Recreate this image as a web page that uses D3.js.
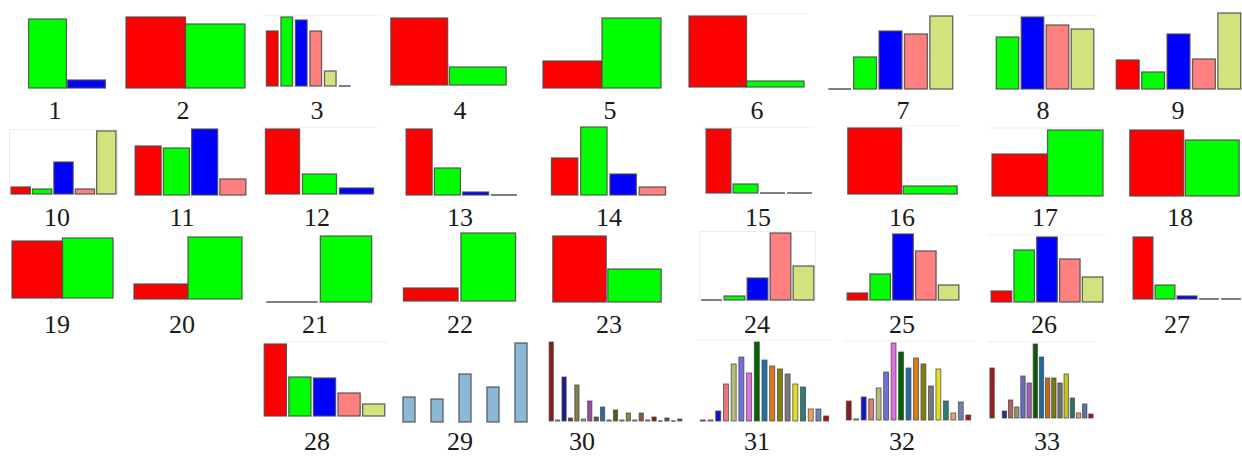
<!DOCTYPE html>
<html><head><meta charset="utf-8">
<script src="https://cdn.jsdelivr.net/npm/d3@7"></script>
<style>html,body{margin:0;padding:0;background:#fff;}svg{display:block;}</style>
</head><body>
<svg id="c" width="1242" height="456"></svg>
<script>
// ---------- DATA ----------
const panelLabels = d3.range(1, 34).map(String);
const panelValues = [
  [69, 8],
  [71, 64],
  [55, 69, 66, 55, 15, 0],
  [67, 18],
  [27, 70],
  [71, 6],
  [0, 32, 58, 55, 73],
  [null, 52, 72, 64, 60],
  [29, 17, 55, 30, 76],
  [7, 5, 32, 5, 63],
  [49, 47, 66, 16],
  [65, 20, 6],
  [66, 27, 3, 0],
  [37, 68, 21, 8],
  [64, 9, 0, 0],
  [66, 8],
  [42, 66],
  [66, 56],
  [57, 60],
  [15, 62],
  [0, 66],
  [13, 68],
  [66, 33],
  [0, 4, 22, 67, 34],
  [7, 26, 66, 49, 15],
  [11, 52, 65, 43, 25],
  [62, 14, 3, 0, 0],
  [72, 39, 38, 23, 12],
  [25, 23, 48, 35, 79],
  [79, 1, 44, 3, 36, 2, 20, 4, 14, 1, 11, 1, 8, 1, 8, 1, 4, 0, 3, 0, 2],
  [1, 1, 10, 37, 57, 64, 48, 79, 61, 55, 52, 47, 37, 34, 12, 12, 5],
  [19, 1, 23, 21, 32, 48, 77, 68, 52, 62, 56, 34, 51, 19, 7, 18, 5],
  [50, null, 7, 18, 11, 42, 35, 74, 61, 40, 40, 35, 44, 20, 5, 14, 4]
];

// ---------- LAYOUT (positions / sizes) ----------
// [x0, x1, top, bottom, labelX, slots, paddingInner]
const panelBoxes = [
  [28,106,19,88,55,2,0.03],
  [126,245,17,88,183,2,0.0],
  [265,381,17,86,317,8,0.2],
  [390,507,18,85,460,2,0.03],
  [543,661,18,88,610,2,0.0],
  [689,804,16,87,757,2,0.0],
  [827,954,16,89,903,5,0.1],
  [970,1095,17,89,1043,5,0.1],
  [1115,1242,13,89,1178,5,0.1],
  [10,117,131,194,57,5,0.1],
  [134,247,129,195,182,4,0.08],
  [264,375,129,194,317,3,0.08],
  [405,518,129,195,460,4,0.08],
  [550,667,127,195,609,4,0.1],
  [705,813,129,193,758,4,0.08],
  [847,958,128,194,902,2,0.03],
  [992,1103,130,196,1045,2,0.0],
  [1129,1240,130,196,1180,2,0.03],
  [12,113,238,298,57,2,0],
  [134,242,237,299,182,2,0],
  [265,373,236,302,315,2,0.05],
  [402,517,233,301,460,2,0.05],
  [552,662,236,302,609,2,0.03],
  [700,815,233,300,757,5,0.1],
  [846,960,234,300,902,5,0.1],
  [990,1104,237,302,1044,5,0.1],
  [1132,1242,237,299,1177,5,0.1],
  [263,386,344,416,317,5,0.1],
  [395,535,343,422,460,5,0.57],
  [548,683,342,421,582,21,0.35],
  [699,830,342,421,757,17,0.35],
  [845,972,343,420,902,17,0.35],
  [989,1094,344,418,1047,17,0.3]
];
const panelRow = [0,0,0,0,0,0,0,0,0, 1,1,1,1,1,1,1,1,1, 2,2,2,2,2,2,2,2,2, 3,3,3,3,3,3];
const rowBaselines = [119, 226, 333, 450];
const framedPanels = [3, 6, 8, 12, 15, 16, 17, 26, 28, 31, 32, 33];
const boxedPanels = [10, 24];

// ---------- STYLES ----------
const basicColors = ['#ff0000', '#00ff00', '#0000ff', '#ff8080', '#d4e27e', '#888888', '#888888', '#888888'];
const multiColors = ['#8b1a1a','#b0b0b0','#1414c8','#e87878','#b4bc78','#7070d8','#e070e0','#006400','#1f70a8','#e07818','#808010','#787878','#e0e020','#2e7d7d','#f0a060','#7080b8','#a01818'];
const darkColors = ['#8b1a1a','#999999','#1a1a8c','#8b2a2a','#7a8050','#999999','#9a4aa0','#555555','#2a6a9a','#999999','#5a5a20','#999999','#8a8a30','#999999','#8a5a30','#999999','#8b1a1a','#999999','#555555','#999999','#555555'];
const mutedColors = ['#a01c1c','#b0b0b0','#2a2a90','#b86060','#909868','#6a6ac8','#a060b0','#0a5a0a','#1f6aa0','#c06a20','#7a7a10','#707070','#c8c820','#2e7070','#e0a060','#6070a8','#a01818'];
const singleColor = '#8ab8d6';
const panelColorStart = d3.range(33).map(i => i === 0 ? 1 : 0);

function colorFor(p, i) {
  if (p === 28) return singleColor;
  if (p === 29) return darkColors[i % darkColors.length];
  if (p === 30 || p === 31) return multiColors[i % multiColors.length];
  if (p === 32) return mutedColors[i % mutedColors.length];
  return basicColors[i + panelColorStart[p]];
}

// ---------- DRAW ----------
const svg = d3.select('#c');

panelValues.forEach((vals, p) => {
  const [x0, x1, top, bottom, labelX, slots, pad] = panelBoxes[p];
  const g = svg.append('g');
  const x = d3.scaleBand().domain(d3.range(slots)).range([x0, x1]).paddingInner(pad).paddingOuter(pad / 2);
  const ymax = d3.max(vals.filter(v => v != null));
  const y = d3.scaleLinear().domain([0, ymax]).range([bottom, top]);

  if (framedPanels.includes(p + 1)) {
    g.append('line').attr('x1', x0 - 2).attr('x2', x1 + 2).attr('y1', top - 2).attr('y2', top - 2)
      .attr('stroke', '#eeeeee').attr('stroke-width', 1);
  }
  if (boxedPanels.includes(p + 1)) {
    g.append('rect').attr('x', x0 - 0.5).attr('y', top - 1.5).attr('width', x1 - x0 + 1).attr('height', bottom - top + 1.5)
      .attr('fill', 'none').attr('stroke', '#eeeeee').attr('stroke-width', 1);
  }

  const data = vals.map((v, i) => ({ v, i })).filter(d => d.v != null);
  const small = slots > 10;
  g.selectAll('rect.bar').data(data.filter(d => d.v > 0)).join('rect')
    .attr('class', 'bar')
    .attr('x', d => x(d.i))
    .attr('width', x.bandwidth())
    .attr('y', d => y(d.v))
    .attr('height', d => bottom - y(d.v))
    .attr('fill', d => colorFor(p, d.i))
    .attr('stroke', '#4a4a4a')
    .attr('stroke-opacity', 0.85)
    .attr('stroke-width', small ? 0.9 : 1.3);
  g.selectAll('line.zero').data(data.filter(d => d.v === 0)).join('line')
    .attr('class', 'zero')
    .attr('x1', d => x(d.i)).attr('x2', d => x(d.i) + x.bandwidth())
    .attr('y1', bottom).attr('y2', bottom)
    .attr('stroke', '#555555').attr('stroke-width', 1.5);

  g.append('text')
    .attr('x', labelX)
    .attr('y', rowBaselines[panelRow[p]])
    .attr('text-anchor', 'middle')
    .attr('font-family', '"Liberation Serif", "Times New Roman", serif')
    .attr('font-size', 26)
    .attr('fill', '#1a1a1a')
    .text(panelLabels[p]);
});
</script>
</body></html>
